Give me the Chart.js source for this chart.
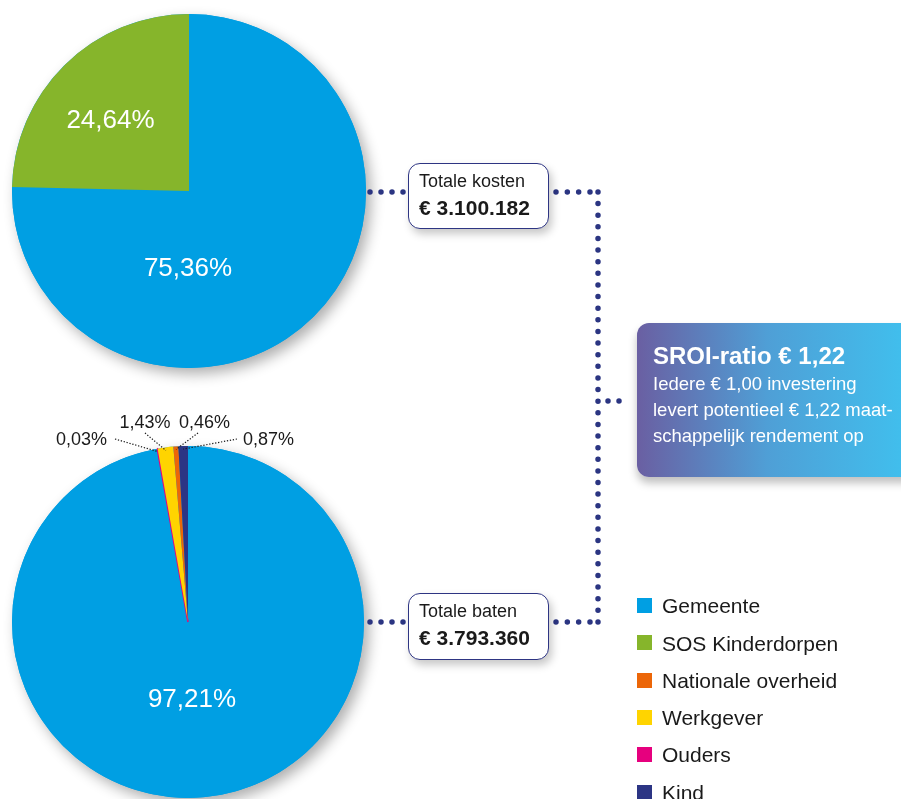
<!DOCTYPE html>
<html>
<head>
<meta charset="utf-8">
<script src="https://cdn.jsdelivr.net/npm/chart.js@4.4.1/dist/chart.umd.min.js"></script>
<style>
  html, body { margin: 0; padding: 0; background: #fff; }
  body { position: relative; width: 901px; height: 799px; overflow: hidden;
         font-family: "Liberation Sans", Arial, sans-serif; color: #1a1a1a; }
  .pie { position: absolute; }
  .t { position: absolute; line-height: 1; white-space: nowrap; }
  .box { position: absolute; box-sizing: border-box; border: 1.5px solid #2e3583;
         border-radius: 12px; background: #fff; box-shadow: 3px 5px 8px rgba(0,0,0,0.22); }
  .sroi { position: absolute; left: 637px; top: 323px; width: 290px; height: 154px;
          border-radius: 12px; background: linear-gradient(to right, #6a5fa2 0%, #4f9fd6 45%, #3ec4f1 100%);
          box-shadow: 0 6px 9px rgba(0,0,0,0.25); }
  .sw { position: absolute; width: 15px; height: 15px; }
</style>
</head>
<body>

<div class="pie" style="left:-11px; top:-9px;"><canvas id="kosten" width="400" height="400"></canvas></div>
<div class="pie" style="left:-12px; top:382px;"><canvas id="baten" width="400" height="440"></canvas></div>

<svg width="901" height="799" style="position:absolute; left:0; top:0;">
  <g stroke="#2b3582" stroke-width="5.5" stroke-linecap="round" fill="none">
    <line x1="370" y1="192" x2="404" y2="192" stroke-dasharray="0 11"/>
    <line x1="556" y1="192" x2="590" y2="192" stroke-dasharray="0 11.33"/>
    <line x1="598" y1="192" x2="598" y2="622" stroke-dasharray="0 11.62"/>
    <line x1="608" y1="401" x2="630" y2="401" stroke-dasharray="0 11"/>
    <line x1="370" y1="622" x2="404" y2="622" stroke-dasharray="0 11"/>
    <line x1="556" y1="622" x2="590" y2="622" stroke-dasharray="0 11.33"/>
  </g>
</svg>

<div class="box" style="left:408px; top:163px; width:141px; height:66px;"></div>
<div class="t" id="kostenTitle" style="left:419px; top:172px; font-size:18px;"></div>
<div class="t" id="kostenTotal" style="left:419px; top:197px; font-size:21px; font-weight:bold;"></div>

<div class="box" style="left:408px; top:593px; width:141px; height:67px;"></div>
<div class="t" id="batenTitle" style="left:419px; top:602px; font-size:18px;"></div>
<div class="t" id="batenTotal" style="left:419px; top:627px; font-size:21px; font-weight:bold;"></div>

<div class="sroi"></div>
<div class="t" id="sroiTitle" style="left:653px; top:344px; font-size:24px; font-weight:bold; color:#fff;"></div>
<div id="sroiText"></div>

<div id="legend"></div>

<script>
// categories and colours (legend order)
const categories = ['Gemeente', 'SOS Kinderdorpen', 'Nationale overheid', 'Werkgever', 'Ouders', 'Kind'];
const categoryColors = ['#009fe3', '#86b52b', '#ec6608', '#ffd400', '#e6007e', '#2c3584'];

// top pie: kosten (%)
const kostenLabels = ['Gemeente', 'SOS Kinderdorpen'];
const kostenValues = [75.36, 24.64];

// bottom pie: baten (%)
const batenLabels = ['Gemeente', 'Ouders', 'Werkgever', 'Nationale overheid', 'Kind'];
const batenValues = [97.21, 0.03, 1.43, 0.46, 0.87];

const boxTitles = ['Totale kosten', 'Totale baten'];
const boxTotals = ['€ 3.100.182', '€ 3.793.360'];

const sroiTitle = 'SROI-ratio € 1,22';
const sroiLines = ['Iedere € 1,00 investering', 'levert potentieel € 1,22 maat-', 'schappelijk rendement op'];

const colorOf = name => categoryColors[categories.indexOf(name)];
const pct = v => v.toFixed(2).replace('.', ',') + '%';

// text boxes
document.getElementById('kostenTitle').textContent = boxTitles[0];
document.getElementById('kostenTotal').textContent = boxTotals[0];
document.getElementById('batenTitle').textContent = boxTitles[1];
document.getElementById('batenTotal').textContent = boxTotals[1];
document.getElementById('sroiTitle').textContent = sroiTitle;

const sroiText = document.getElementById('sroiText');
sroiLines.forEach((line, i) => {
    const d = document.createElement('div');
    d.className = 't';
    d.style.cssText = `left:653px; top:${375.3 + i * 26}px; font-size:18.5px; color:#fff;`;
    d.textContent = line;
    sroiText.appendChild(d);
});

// legend
const legend = document.getElementById('legend');
categories.forEach((name, i) => {
    const sw = document.createElement('div');
    sw.className = 'sw';
    sw.style.cssText = `left:637px; top:${598 + i * 37.3}px; background:${categoryColors[i]};`;
    legend.appendChild(sw);
    const lb = document.createElement('div');
    lb.className = 't';
    lb.style.cssText = `left:662px; top:${595.2 + i * 37.3}px; font-size:21px;`;
    lb.textContent = name;
    legend.appendChild(lb);
});

// shadow under the pie + percentage labels
const pieLabels = {
    id: 'pieLabels',
    beforeDatasetsDraw(chart) {
        const first = chart.getDatasetMeta(0).data[0];
        const ctx = chart.ctx;
        ctx.save();
        ctx.shadowColor = 'rgba(0,0,0,0.32)';
        ctx.shadowBlur = 14;
        ctx.shadowOffsetX = 5;
        ctx.shadowOffsetY = 6;
        ctx.fillStyle = '#009fe3';
        ctx.beginPath();
        ctx.arc(first.x, first.y, first.outerRadius, 0, Math.PI * 2);
        ctx.fill();
        ctx.restore();
    },
    afterDatasetsDraw(chart, args, opts) {
        const ctx = chart.ctx;
        const labels = chart.data.labels;
        const values = chart.data.datasets[0].data;
        chart.getDatasetMeta(0).data.forEach((arc, i) => {
            const p = opts.places[labels[i]];
            if (!p) return;
            const {x, y, startAngle, endAngle, outerRadius} = arc.getProps(['x', 'y', 'startAngle', 'endAngle', 'outerRadius'], true);
            ctx.save();
            if (p.inside) {
                ctx.font = '26px "Liberation Sans", Arial, sans-serif';
                ctx.fillStyle = '#fff';
            } else {
                ctx.font = '18px "Liberation Sans", Arial, sans-serif';
                ctx.fillStyle = '#1a1a1a';
                const mid = (startAngle + endAngle) / 2;
                const r = outerRadius - 3;
                ctx.strokeStyle = '#1a1a1a';
                ctx.lineWidth = 1.2;
                ctx.setLineDash([1.3, 1.7]);
                ctx.beginPath();
                ctx.moveTo(x + p.lx, y + p.ly);
                ctx.lineTo(x + Math.cos(mid) * r, y + Math.sin(mid) * r);
                ctx.stroke();
            }
            ctx.textAlign = p.align || 'center';
            ctx.textBaseline = 'alphabetic';
            ctx.fillText(pct(values[i]), x + p.dx, y + p.dy);
            ctx.restore();
        });
    }
};

function makePie(id, labels, values, radius, topPad, places) {
    return new Chart(document.getElementById(id), {
        type: 'pie',
        data: {
            labels: labels,
            datasets: [{
                data: values,
                backgroundColor: labels.map(colorOf),
                // hairline slices get a thin outline of their own colour so they stay visible
                borderColor: labels.map(colorOf),
                borderWidth: values.map(v => v < 0.1 ? 1.6 : 0),
                hoverOffset: 0
            }]
        },
        options: {
            responsive: false,
            animation: false,
            events: [],
            radius: radius,
            layout: { padding: { top: topPad, left: 0, right: 0, bottom: 0 } },
            plugins: {
                legend: { display: false },
                tooltip: { enabled: false },
                pieLabels: { places: places }
            }
        },
        plugins: [pieLabels]
    });
}

makePie('kosten', kostenLabels, kostenValues, 177, 0, {
    'Gemeente':         { inside: true, dx: -1, dy: 85 },
    'SOS Kinderdorpen': { inside: true, dx: -78.5, dy: -63 }
});

makePie('baten', batenLabels, batenValues, 176, 40, {
    'Gemeente':           { inside: true, dx: 4, dy: 85 },
    'Ouders':             { align: 'right',  dx: -81,  dy: -177, lx: -73, ly: -183 },
    'Werkgever':          { align: 'center', dx: -43,  dy: -194, lx: -43, ly: -189 },
    'Nationale overheid': { align: 'center', dx: 16.5, dy: -194, lx: 10,  ly: -189 },
    'Kind':               { align: 'left',   dx: 55,   dy: -177, lx: 49,  ly: -183 }
});
</script>
</body>
</html>
